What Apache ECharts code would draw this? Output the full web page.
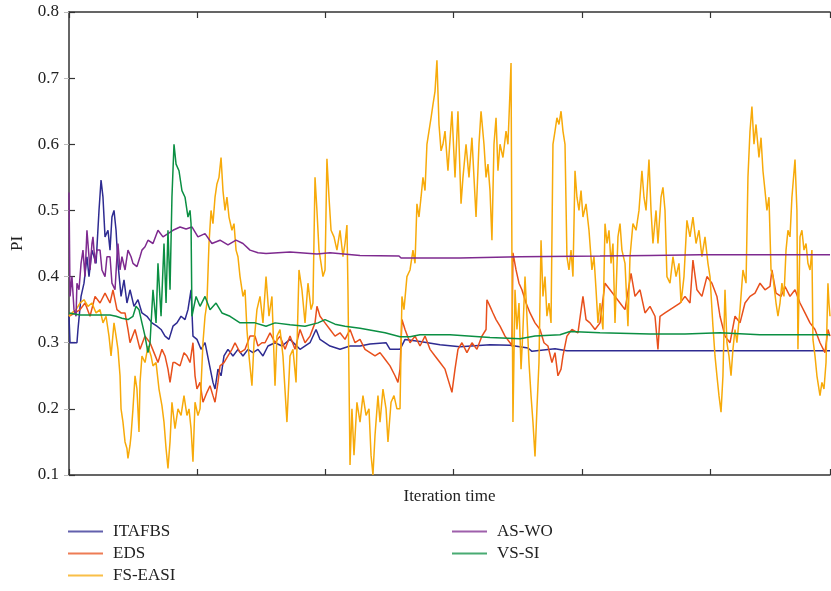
<!DOCTYPE html>
<html>
<head>
<meta charset="utf-8">
<script src="https://cdn.jsdelivr.net/npm/echarts@6/dist/echarts.min.js"></script>
<style>
html,body{margin:0;padding:0;background:#fff;}
#c{width:831px;height:591px;}
</style>
</head>
<body>
<div id="c"></div>
<script>
// Tick labels
const yTicks = [0.1, 0.2, 0.3, 0.4, 0.5, 0.6, 0.7, 0.8];
const seriesNames = ['ITAFBS', 'EDS', 'FS-EASI', 'AS-WO', 'VS-SI'];

// [iteration, PI]
const ITAFBS = [[0,.34],[8,.30],[62,.30],[70,.32],[94,.37],[117,.39],[140,.43],[156,.40],[179,.44],[211,.42],[234,.50],[250,.546],[265,.52],[281,.46],[304,.47],[320,.44],[335,.49],[351,.50],[367,.47],[382,.42],[406,.37],[429,.395],[452,.36],[476,.38],[507,.355],[538,.365],[569,.345],[608,.34],[647,.33],[686,.325],[718,.32],[749,.31],[780,.305],[811,.325],[842,.33],[874,.34],[905,.335],[928,.35],[952,.38],[967,.31],[998,.305],[1030,.29],[1061,.30],[1092,.27],[1123,.24],[1139,.23],[1162,.26],[1186,.25],[1209,.28],[1240,.29],[1279,.28],[1318,.29],[1357,.28],[1396,.29],[1435,.285],[1474,.29],[1513,.28],[1552,.295],[1607,.30],[1661,.295],[1724,.305],[1802,.29],[1880,.30],[1927,.32],[1958,.305],[2036,.295],[2114,.29],[2192,.295],[2270,.295],[2348,.298],[2473,.30],[2504,.29],[2582,.29],[2621,.305],[2738,.302],[2894,.297],[3050,.294],[3284,.297],[3440,.296],[3580,.292],[3611,.287],[3791,.291],[3884,.288],[4532,.288],[5936,.288]];

const EDS = [[0,.34],[47,.345],[86,.35],[125,.36],[164,.34],[203,.37],[242,.36],[281,.375],[320,.36],[343,.38],[374,.35],[406,.345],[437,.345],[460,.32],[476,.30],[515,.32],[554,.29],[593,.31],[632,.30],[663,.285],[694,.27],[725,.29],[749,.28],[772,.26],[788,.24],[811,.27],[827,.27],[866,.265],[897,.285],[920,.28],[944,.27],[967,.30],[983,.25],[998,.23],[1022,.24],[1045,.21],[1076,.225],[1100,.235],[1123,.22],[1139,.21],[1162,.24],[1178,.265],[1209,.27],[1240,.28],[1271,.29],[1295,.30],[1334,.285],[1373,.29],[1412,.31],[1451,.31],[1474,.295],[1505,.30],[1529,.30],[1568,.315],[1607,.30],[1646,.31],[1685,.29],[1724,.31],[1763,.29],[1802,.32],[1841,.30],[1880,.31],[1919,.33],[1934,.355],[1958,.34],[1997,.33],[2036,.32],[2075,.31],[2114,.315],[2153,.305],[2192,.32],[2231,.30],[2270,.305],[2309,.29],[2348,.285],[2387,.28],[2426,.285],[2465,.275],[2504,.265],[2543,.25],[2566,.24],[2582,.26],[2597,.335],[2621,.32],[2660,.30],[2699,.31],[2738,.295],[2777,.31],[2816,.29],[2855,.28],[2894,.27],[2933,.26],[2956,.245],[2987,.225],[3011,.26],[3034,.29],[3065,.30],[3104,.285],[3143,.30],[3182,.29],[3221,.31],[3253,.32],[3260,.365],[3284,.355],[3307,.345],[3331,.335],[3362,.325],[3401,.31],[3440,.30],[3455,.295],[3463,.436],[3487,.41],[3510,.39],[3533,.38],[3565,.36],[3596,.345],[3635,.33],[3674,.32],[3705,.30],[3736,.295],[3767,.27],[3791,.285],[3814,.25],[3838,.26],[3853,.28],[3884,.31],[3923,.32],[3970,.315],[4009,.37],[4033,.335],[4064,.33],[4103,.32],[4142,.33],[4181,.39],[4220,.38],[4259,.37],[4298,.36],[4337,.35],[4384,.405],[4415,.37],[4454,.38],[4493,.345],[4532,.355],[4571,.34],[4594,.29],[4610,.34],[4649,.345],[4688,.35],[4727,.355],[4766,.36],[4805,.37],[4844,.36],[4867,.425],[4898,.38],[4937,.37],[4976,.40],[5015,.39],[5054,.37],[5078,.34],[5117,.31],[5156,.30],[5195,.34],[5234,.33],[5273,.36],[5312,.37],[5351,.375],[5390,.39],[5429,.38],[5468,.385],[5483,.41],[5515,.375],[5554,.37],[5585,.385],[5624,.37],[5663,.38],[5702,.36],[5741,.345],[5780,.33],[5819,.32],[5858,.30],[5897,.285],[5920,.32],[5936,.31]];

const FS_EASI = [[0,.34],[23,.345],[55,.35],[86,.36],[117,.365],[148,.355],[179,.36],[211,.345],[242,.35],[265,.33],[289,.34],[312,.31],[328,.28],[351,.33],[367,.31],[382,.29],[398,.25],[406,.20],[421,.18],[437,.15],[452,.14],[460,.125],[476,.145],[484,.16],[499,.20],[515,.25],[530,.23],[546,.165],[554,.24],[569,.28],[593,.27],[616,.295],[640,.28],[655,.265],[679,.27],[702,.23],[725,.205],[741,.18],[757,.14],[772,.11],[788,.15],[803,.21],[827,.17],[850,.20],[874,.19],[897,.22],[920,.19],[936,.20],[952,.17],[967,.12],[983,.21],[1006,.19],[1022,.20],[1045,.30],[1061,.34],[1076,.36],[1092,.45],[1108,.50],[1123,.48],[1139,.52],[1154,.54],[1170,.55],[1186,.58],[1201,.53],[1217,.50],[1232,.52],[1248,.49],[1271,.47],[1287,.48],[1303,.44],[1318,.43],[1334,.40],[1357,.37],[1373,.38],[1388,.32],[1404,.28],[1427,.235],[1443,.30],[1466,.35],[1490,.37],[1513,.33],[1537,.40],[1560,.34],[1583,.37],[1607,.235],[1622,.31],[1646,.32],[1669,.28],[1700,.18],[1724,.28],[1747,.29],[1771,.24],[1794,.41],[1817,.38],[1841,.33],[1864,.39],[1888,.35],[1903,.36],[1919,.55],[1934,.50],[1950,.44],[1966,.42],[1981,.40],[1997,.41],[2012,.578],[2028,.52],[2044,.47],[2067,.46],[2090,.44],[2114,.47],[2137,.43],[2153,.45],[2168,.478],[2176,.38],[2192,.115],[2207,.20],[2223,.13],[2246,.21],[2270,.18],[2293,.22],[2317,.19],[2340,.20],[2356,.13],[2371,.10],[2387,.16],[2410,.22],[2426,.18],[2449,.23],[2473,.20],[2488,.15],[2512,.21],[2535,.22],[2558,.20],[2582,.20],[2597,.37],[2613,.35],[2636,.40],[2660,.41],[2683,.44],[2699,.42],[2714,.51],[2730,.49],[2746,.52],[2761,.55],[2777,.53],[2792,.60],[2808,.62],[2824,.64],[2839,.66],[2855,.68],[2870,.727],[2886,.63],[2902,.59],[2917,.60],[2933,.62],[2956,.56],[2987,.65],[3011,.55],[3034,.65],[3058,.51],[3073,.55],[3097,.60],[3120,.55],[3143,.61],[3175,.49],[3198,.60],[3214,.65],[3237,.60],[3253,.55],[3268,.57],[3284,.53],[3299,.455],[3315,.60],[3331,.64],[3346,.56],[3362,.60],[3385,.58],[3409,.62],[3424,.60],[3440,.68],[3448,.723],[3455,.43],[3463,.18],[3479,.38],[3494,.32],[3510,.36],[3526,.26],[3541,.32],[3557,.40],[3572,.34],[3588,.27],[3604,.22],[3619,.18],[3635,.128],[3650,.20],[3666,.27],[3682,.455],[3697,.37],[3713,.40],[3728,.34],[3744,.36],[3760,.33],[3775,.60],[3791,.62],[3806,.64],[3822,.63],[3838,.65],[3853,.62],[3869,.60],[3884,.43],[3900,.41],[3916,.44],[3931,.40],[3947,.56],[3962,.52],[3978,.50],[3994,.53],[4009,.49],[4033,.51],[4056,.47],[4079,.41],[4095,.43],[4111,.38],[4126,.33],[4142,.36],[4165,.32],[4181,.48],[4197,.45],[4212,.47],[4228,.42],[4243,.45],[4259,.33],[4282,.46],[4298,.48],[4313,.44],[4337,.42],[4360,.325],[4376,.43],[4399,.48],[4423,.47],[4446,.50],[4469,.56],[4485,.52],[4501,.50],[4524,.577],[4540,.50],[4555,.45],[4579,.50],[4594,.45],[4618,.52],[4633,.535],[4649,.50],[4664,.40],[4688,.39],[4711,.43],[4735,.40],[4758,.42],[4774,.36],[4797,.40],[4820,.485],[4844,.46],[4867,.49],[4891,.45],[4914,.47],[4937,.43],[4961,.46],[4984,.42],[5000,.40],[5023,.325],[5039,.28],[5054,.25],[5070,.22],[5086,.195],[5101,.25],[5117,.38],[5132,.30],[5148,.28],[5164,.25],[5179,.29],[5195,.32],[5210,.30],[5234,.35],[5257,.41],[5281,.39],[5296,.55],[5312,.62],[5327,.657],[5343,.60],[5359,.63],[5382,.58],[5398,.61],[5413,.56],[5429,.53],[5444,.50],[5460,.52],[5476,.41],[5491,.40],[5515,.36],[5530,.34],[5546,.36],[5561,.39],[5577,.37],[5593,.44],[5608,.47],[5624,.46],[5639,.52],[5663,.577],[5678,.50],[5686,.29],[5702,.46],[5717,.47],[5733,.44],[5749,.45],[5764,.42],[5780,.41],[5795,.44],[5803,.305],[5819,.28],[5834,.25],[5850,.23],[5858,.22],[5873,.24],[5889,.23],[5905,.27],[5920,.39],[5928,.36],[5936,.34]];

const AS_WO = [[0,.527],[8,.37],[23,.40],[39,.35],[55,.34],[62,.39],[78,.38],[94,.42],[109,.44],[125,.40],[140,.47],[156,.43],[164,.41],[179,.45],[187,.46],[203,.42],[218,.44],[242,.44],[257,.41],[281,.40],[296,.43],[320,.43],[335,.39],[359,.38],[374,.43],[382,.45],[398,.41],[413,.43],[437,.41],[460,.44],[484,.43],[499,.42],[530,.415],[554,.43],[569,.44],[593,.445],[616,.455],[655,.45],[694,.47],[733,.46],[772,.465],[811,.47],[866,.475],[913,.472],[959,.475],[1006,.46],[1061,.465],[1115,.45],[1178,.455],[1240,.448],[1303,.455],[1357,.45],[1412,.44],[1474,.436],[1537,.435],[1724,.437],[1934,.434],[2036,.436],[2270,.432],[2574,.431],[2590,.428],[3050,.428],[3518,.430],[4142,.431],[4532,.432],[4922,.433],[5936,.433]];

const VS_SI = [[0,.345],[86,.342],[203,.342],[320,.342],[367,.34],[413,.337],[460,.335],[499,.34],[523,.355],[546,.35],[569,.33],[593,.31],[616,.285],[632,.30],[655,.38],[679,.33],[694,.42],[718,.34],[741,.45],[757,.36],[772,.47],[788,.38],[803,.52],[819,.60],[835,.57],[858,.56],[881,.53],[905,.52],[928,.49],[944,.50],[952,.48],[959,.34],[991,.37],[1022,.355],[1061,.37],[1100,.35],[1147,.36],[1193,.345],[1256,.34],[1334,.33],[1451,.33],[1537,.325],[1607,.33],[1724,.327],[1841,.325],[1942,.33],[1997,.335],[2075,.328],[2153,.325],[2270,.322],[2465,.315],[2582,.309],[2660,.309],[2738,.312],[2972,.312],[3284,.308],[3518,.306],[3635,.31],[3830,.312],[3908,.317],[4142,.315],[4532,.313],[4805,.313],[5078,.315],[5390,.312],[5936,.312]];

const colors = ['#2E2B91', '#E8501C', '#F7AA0A', '#7E2A8F', '#0B8F43'];
const seriesData = [ITAFBS, EDS, FS_EASI, AS_WO, VS_SI];

const FONT = "'Liberation Serif', 'DejaVu Serif', serif";
const chart = echarts.init(document.getElementById('c'), null, {renderer: 'canvas'});

const textStyle = {fontFamily: FONT, fontSize: 17, color: '#222'};
const legendText = {fontFamily: FONT, fontSize: 17, color: '#222', lineHeight: 14, padding: [0, 0, 0, 5]};

chart.setOption({
  animation: false,
  backgroundColor: '#fff',
  textStyle: {fontFamily: FONT},
  grid: {left: 69, right: 1, top: 12, bottom: 116, containLabel: false},
  xAxis: [{
    type: 'value', min: 0, max: 5936, interval: 1000, position: 'bottom',
    name: 'Iteration time', nameLocation: 'middle', nameGap: 13,
    nameTextStyle: textStyle,
    axisLine: {show: true, lineStyle: {color: '#333', width: 1.5}},
    axisTick: {show: true, inside: true, length: 6, lineStyle: {color: '#333', width: 1.2}},
    axisLabel: {show: false},
    splitLine: {show: false}
  }, {
    type: 'value', min: 0, max: 5936, interval: 1000, position: 'top',
    axisLine: {show: true, lineStyle: {color: '#333', width: 1.5}},
    axisTick: {show: true, inside: true, length: 6, lineStyle: {color: '#333', width: 1.2}},
    axisLabel: {show: false},
    splitLine: {show: false}
  }],
  yAxis: [{
    type: 'value', min: 0.1, max: 0.8, interval: 0.1, position: 'left',
    name: 'PI', nameLocation: 'middle', nameGap: 43, nameRotate: 90,
    nameTextStyle: textStyle,
    axisLine: {show: true, lineStyle: {color: '#333', width: 1.5}},
    axisTick: {show: true, inside: true, length: 6, lineStyle: {color: '#333', width: 1.2}},
    axisLabel: {show: true, margin: 10, fontFamily: FONT, fontSize: 17, color: '#222',
      formatter: v => { const t = yTicks.find(k => Math.abs(k - v) < 1e-6); return t !== undefined ? t.toFixed(1) : ''; }},
    splitLine: {show: false}
  }, {
    type: 'value', min: 0.1, max: 0.8, interval: 0.1, position: 'right',
    axisLine: {show: false},
    axisTick: {show: true, inside: true, length: 5, lineStyle: {color: '#bbb', width: 1}},
    axisLabel: {show: false},
    splitLine: {show: false}
  }],
  legend: [{
    data: seriesNames.slice(0, 3), orient: 'vertical', left: 68, top: 523, padding: 0,
    height: 80, itemWidth: 35, itemHeight: 14, itemGap: 5, icon: 'path://M0,6h35v2h-35z',
    textStyle: legendText
  }, {
    data: seriesNames.slice(3), orient: 'vertical', left: 452, top: 523, padding: 0,
    height: 80, itemWidth: 35, itemHeight: 14, itemGap: 5, icon: 'path://M0,6h35v2h-35z',
    textStyle: legendText
  }],
  series: seriesNames.map((n, i) => ({
    name: n, type: 'line', data: seriesData[i], symbol: 'none', showSymbol: false,
    xAxisIndex: 0, yAxisIndex: 0,
    lineStyle: {color: colors[i], width: 1.5},
    itemStyle: {color: colors[i], opacity: 0.75},
    emphasis: {disabled: true}
  }))
});
</script>
</body>
</html>
